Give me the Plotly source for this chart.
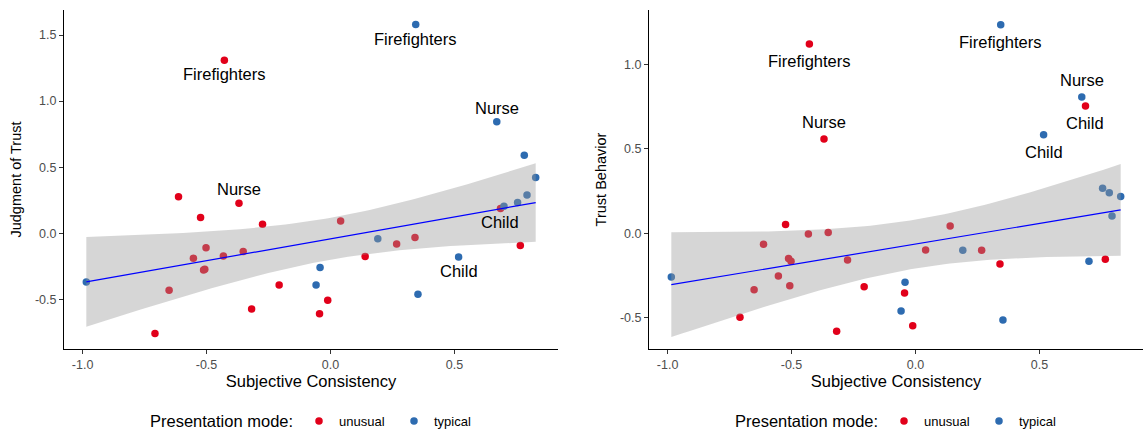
import numpy as np
import plotly.graph_objects as go

# ---- data ----
consistency = [-0.708, -0.651, -0.613, -0.553, -0.524, -0.512, -0.507, -0.502, -0.432, -0.428,
               -0.369, -0.352, -0.318, -0.274, -0.207, -0.044, -0.011, 0.041, 0.140, 0.267,
               0.341, 0.686, 0.766,
               -0.985, -0.058, -0.042, 0.191, 0.344, 0.353, 0.517, 0.671, 0.700, 0.755,
               0.782, 0.793, 0.828]
mode = ["unusual"] * 23 + ["typical"] * 13
judgment = [-0.760, -0.432, 0.275, -0.189, 0.118, -0.278, -0.273, -0.111, -0.172, 1.31,
            0.227, -0.139, -0.574, 0.068, -0.392, -0.611, -0.508, 0.093, -0.177, -0.081,
            -0.033, 0.187, -0.094,
            -0.369, -0.392, -0.260, -0.043, 1.58, -0.462, -0.180, 0.843, 0.204, 0.232,
            0.591, 0.290, 0.421]
behavior = [-0.497, -0.335, -0.065, -0.253, 0.051, -0.150, -0.310, -0.166, -0.004, 1.12,
            0.558, 0.004, -0.580, -0.158, -0.316, -0.353, -0.547, -0.099, 0.043, -0.101,
            -0.182, 0.753, -0.154,
            -0.259, -0.460, -0.290, -0.101, 1.234, -0.513, 0.583, 0.806, -0.166, 0.266,
            0.240, 0.102, 0.217]
labels = [""] * 9 + ["Firefighters", "Nurse"] + [""] * 10 + ["Child", ""] + \
         [""] * 4 + ["Firefighters", "", "Child", "Nurse"] + [""] * 5

# fitted trend lines (judgment, behavior)
fit_intercept = [-0.0425, -0.064]
fit_slope = [0.3315, 0.244]

x_ticks = [-1.0, -0.5, 0.0, 0.5]
x_ticktext = ["-1.0", "-0.5", "0.0", "0.5"]
y1_ticks = [-0.5, 0.0, 0.5, 1.0, 1.5]
y1_ticktext = ["-0.5", "0.0", "0.5", "1.0", "1.5"]
y2_ticks = [-0.5, 0.0, 0.5, 1.0]
y2_ticktext = ["-0.5", "0.0", "0.5", "1.0"]

colors = {"unusual": "#E1001A", "typical": "#2D6BB0"}
FONT = "Liberation Sans, Arial, sans-serif"
W = 1146.0
H = 430.0

x = np.array(consistency)
modes = np.array(mode)

fig = go.Figure()


def add_panel(yvals, a, b, xa, ya, legend_name, label_shift):
    y = np.array(yvals)
    for m in ["unusual", "typical"]:
        sel = modes == m
        fig.add_trace(go.Scatter(
            x=x[sel], y=y[sel], mode="markers", name=m,
            marker=dict(color=colors[m], size=7.5),
            xaxis=xa, yaxis=ya, legend=legend_name, showlegend=True,
            hoverinfo="skip"))
    # linear trend with 95% confidence band
    n = len(x)
    X = np.column_stack([np.ones(n), x])
    beta, *_ = np.linalg.lstsq(X, y, rcond=None)
    resid = y - X @ beta
    s = np.sqrt(resid @ resid / (n - 2))
    xbar = x.mean()
    sxx = ((x - xbar) ** 2).sum()
    grid = np.linspace(x.min(), x.max(), 80)
    fit = a + b * grid
    se = s * np.sqrt(1.0 / n + (grid - xbar) ** 2 / sxx)
    tcrit = 2.0322
    upper = fit + tcrit * se
    lower = fit - tcrit * se
    fig.add_trace(go.Scatter(
        x=np.concatenate([grid, grid[::-1]]), y=np.concatenate([upper, lower[::-1]]),
        fill="toself", fillcolor="rgba(153,153,153,0.4)", line=dict(width=0),
        mode="lines", xaxis=xa, yaxis=ya, showlegend=False, hoverinfo="skip"))
    fig.add_trace(go.Scatter(
        x=grid, y=fit, mode="lines", line=dict(color="#0000FF", width=1.2),
        xaxis=xa, yaxis=ya, showlegend=False, hoverinfo="skip"))
    shifts = {"Firefighters": -label_shift, "Nurse": label_shift, "Child": -label_shift}
    for xi, yi, lab in zip(x, y, labels):
        if lab:
            fig.add_annotation(x=xi, y=yi, xref=xa, yref=ya, text=lab, showarrow=False,
                               yshift=shifts[lab],
                               font=dict(family=FONT, size=16.5, color="black"))


add_panel(judgment, fit_intercept[0], fit_slope[0], "x", "y", "legend", 14)
add_panel(behavior, fit_intercept[1], fit_slope[1], "x2", "y2", "legend2", 17)

axis_common = dict(showgrid=False, zeroline=False, showline=True, linecolor="black",
                   linewidth=1.1, ticks="outside", ticklen=4, tickcolor="#333333",
                   tickfont=dict(family=FONT, size=12.5, color="#4D4D4D"), mirror=False)
xtitle_font = dict(family=FONT, size=16.5, color="black")
ytitle_font = dict(family=FONT, size=14.5, color="black")

LEG_PIX = 421
for xpix in [148, 733]:
    fig.add_annotation(x=xpix / W, y=(349 - LEG_PIX) / 339.0, xref="paper", yref="paper",
                       xanchor="left", yanchor="middle", showarrow=False,
                       text="Presentation mode:",
                       font=dict(family=FONT, size=16.5, color="black"))

leg_common = dict(orientation="h", xanchor="left", xref="container", yref="container",
                  y=1 - LEG_PIX / H, yanchor="middle",
                  font=dict(family=FONT, size=13, color="black"), itemwidth=30,
                  entrywidth=50, entrywidthmode="pixels",
                  bgcolor="rgba(0,0,0,0)", borderwidth=0)

fig.update_layout(
    width=1146, height=430, autosize=False,
    margin=dict(l=0, r=0, t=10, b=81),
    paper_bgcolor="white", plot_bgcolor="white",
    font=dict(family=FONT),
    xaxis=dict(domain=[64 / W, 558 / W], range=[-1.075, 0.918], tickvals=x_ticks,
               ticktext=x_ticktext, anchor="y",
               title=dict(text="Subjective Consistency", font=xtitle_font, standoff=2),
               **axis_common),
    yaxis=dict(domain=[0, 1], range=[-0.877, 1.69], tickvals=y1_ticks, ticktext=y1_ticktext,
               anchor="x",
               title=dict(text="Judgment of Trust", font=ytitle_font, standoff=9),
               **axis_common),
    xaxis2=dict(domain=[649 / W, 1143 / W], range=[-1.075, 0.918], tickvals=x_ticks,
                ticktext=x_ticktext, anchor="y2",
                title=dict(text="Subjective Consistency", font=xtitle_font, standoff=2),
                **axis_common),
    yaxis2=dict(domain=[0, 1], range=[-0.685, 1.321], tickvals=y2_ticks, ticktext=y2_ticktext,
                anchor="x2",
                title=dict(text="Trust Behavior", font=ytitle_font, standoff=9),
                **axis_common),
    legend=dict(x=299 / W, **leg_common),
    legend2=dict(x=884 / W, **leg_common),
)

fig.write_html("out.html", config={"displayModeBar": False},
               post_script="document.body.style.margin='0px';")
